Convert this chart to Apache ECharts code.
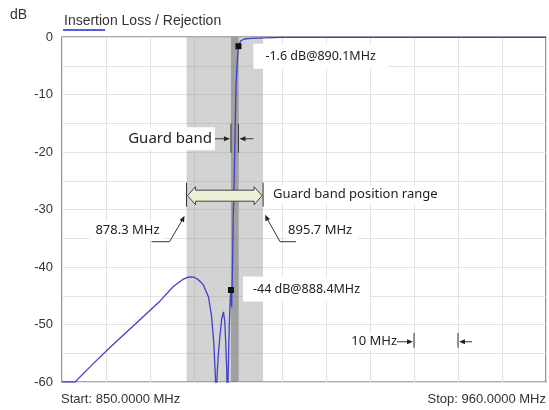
<!DOCTYPE html>
<html>
<head>
<meta charset="utf-8">
<script src="https://cdn.jsdelivr.net/npm/echarts@6/dist/echarts.min.js"></script>
<style>
html,body{margin:0;padding:0;background:#fff;}
#chart{width:549px;height:410px;}
</style>
</head>
<body>
<div id="chart"></div>
<script>
// ---- data ----
const freqMHz = [850, 853.0, 853.6, 857.1, 860.9, 864.7, 868.5, 872.3, 875.3, 877.6, 878.4, 879.1, 879.9, 880.6, 881.4, 882.1, 883.3, 884.0, 884.5, 884.9, 885.05, 885.2, 885.3, 885.6, 885.9, 886.3, 886.7, 887.0, 887.2, 887.45, 887.6, 887.75, 887.85, 888.0, 888.25, 888.4, 888.55, 888.7, 888.8, 888.9, 889.1, 889.25, 889.4, 889.55, 889.8, 890.1, 890.6, 891.4, 893.0, 896.0, 900.0, 910.0, 960.0];
const lossDb  = [-60, -60, -59.5, -56.8, -54.0, -51.3, -48.6, -45.9, -43.4, -42.1, -41.85, -41.7, -41.75, -42.0, -42.5, -43.1, -45.2, -48.6, -53.2, -59.7, -66, -60, -58, -54.5, -52, -49, -47.8, -49.5, -53, -58, -65, -59, -56, -50.4, -45.2, -44, -47, -42, -37.6, -31.8, -26, -20.2, -14.4, -8.6, -4.6, -1.6, -0.7, -0.35, -0.25, -0.15, -0.08, -0.05, -0.05];
const yTickValues = [0, -10, -20, -30, -40, -50, -60];
const yTickLabels = ['0', '-10', '-20', '-30', '-40', '-50', '-60'];
const markerPoints = [[890.1, -1.6], [888.4, -44]];
const markerLabels = ['-1.6 dB@890.1MHz', '-44 dB@888.4MHz'];
const guardBandMHz = [888.4, 890.1];
const guardRangeMHz = [878.3, 895.7];
const guardRangeLabels = ['878.3 MHz', '895.7 MHz'];
const scaleRefMHz = [930, 940];
const scaleRefLabel = '10 MHz';
const startLabel = 'Start: 850.0000 MHz';
const stopLabel = 'Stop: 960.0000 MHz';
const seriesName = 'Insertion Loss / Rejection';
const yUnit = 'dB';

const chart = echarts.init(document.getElementById('chart'), null, {renderer: 'canvas'});
const AX_FONT = 'Liberation Sans, Arial, sans-serif';
const AN_FONT = 'Noto Sans, Open Sans, sans-serif';

chart.setOption({
  animation: false,
  backgroundColor: '#fff',
  title: {
    text: seriesName, left: 59, top: 9,
    textStyle: {fontFamily: AX_FONT, fontSize: 14, fontWeight: 'normal', color: '#333'}
  },
  grid: {left: 62, right: 3, top: 37, bottom: 28, show: true, borderColor: '#555', borderWidth: 1.2, backgroundColor: 'transparent'},
  xAxis: {
    type: 'value', min: 850, max: 960, interval: 10,
    axisLine: {show: false}, axisTick: {show: false}, axisLabel: {show: false},
    splitLine: {show: true, lineStyle: {color: '#e3e3e3', width: 1}}
  },
  yAxis: {
    type: 'value', min: -60, max: 0, interval: 5,
    axisLine: {show: false}, axisTick: {show: false},
    axisLabel: {
      margin: 9, fontFamily: AX_FONT, fontSize: 13, color: '#333',
      formatter: v => { const i = yTickValues.indexOf(v); return i >= 0 ? yTickLabels[i] : ''; }
    },
    splitLine: {show: true, lineStyle: {color: '#e3e3e3', width: 1}}
  },
  series: [
    {
      type: 'line', data: [], silent: true,
      markArea: {
        silent: true,
        data: [
          [{xAxis: guardRangeMHz[0], itemStyle: {color: 'rgba(150,150,150,0.42)'}}, {xAxis: guardRangeMHz[1]}],
          [{xAxis: guardBandMHz[0], itemStyle: {color: 'rgba(110,110,110,0.5)'}}, {xAxis: guardBandMHz[1]}]
        ]
      }
    },
    {
      name: seriesName, type: 'line', showSymbol: false, clip: true,
      data: freqMHz.map((f, i) => [f, lossDb[i]]),
      lineStyle: {color: '#4040c8', width: 1.3},
      markPoint: {
        symbol: 'rect', symbolSize: 6, silent: true,
        itemStyle: {color: '#111'}, label: {show: false},
        data: markerPoints.map(p => ({coord: p}))
      }
    }
  ]
});

function px(x, y) { return chart.convertToPixel({gridIndex: 0}, [x, y]); }
const LINE = {stroke: '#333', lineWidth: 1};
function seg(x1, y1, x2, y2, st) { return {type: 'line', shape: {x1, y1, x2, y2}, style: Object.assign({}, LINE, st || {}), z: 50}; }
function head(tx, ty, dx, dy, len, w) {
  // arrowhead pointing along (dx,dy) with tip at tx,ty
  const n = Math.hypot(dx, dy); const ux = dx / n, uy = dy / n;
  const bx = tx - ux * len, by = ty - uy * len;
  return {type: 'polygon', shape: {points: [[tx, ty], [bx - uy * w, by + ux * w], [bx + uy * w, by - ux * w]]}, style: {fill: '#222'}, z: 51};
}
function txt(x, y, s, size, align, bg, pad) {
  return {type: 'text', x, y, z: 60, style: {
    text: s, fontFamily: AN_FONT, fontSize: size, fill: '#222', align: align || 'left', verticalAlign: 'middle',
    backgroundColor: bg || 'transparent', padding: pad || 0
  }};
}

const g = [];
// legend underline & unit & start/stop
g.push(seg(63, 30, 105, 30, {stroke: '#5a5ae0', lineWidth: 2}));
g.push({type: 'text', x: 10, y: 15, style: {text: yUnit, fontFamily: AX_FONT, fontSize: 14, fill: '#333', verticalAlign: 'middle'}});
const gb = chart.getModel().getComponent('grid').coordinateSystem.getRect();
g.push({type: 'text', x: gb.x - 1, y: 399, style: {text: startLabel, fontFamily: AX_FONT, fontSize: 13, fill: '#333', verticalAlign: 'middle'}});
g.push({type: 'text', x: gb.x + gb.width, y: 399, style: {text: stopLabel, fontFamily: AX_FONT, fontSize: 13, fill: '#333', align: 'right', verticalAlign: 'middle'}});

// marker labels
const m1 = px(markerPoints[0][0], markerPoints[0][1]);
g.push(txt(m1[0] + 15, m1[1] + 10, markerLabels[0], 12.5, 'left', '#fff', [6, 12, 6, 12]));
const m2 = px(markerPoints[1][0], markerPoints[1][1]);
g.push(txt(m2[0] + 12, m2[1] - 1, markerLabels[1], 12.5, 'left', '#fff', [6, 10, 6, 10]));

// guard band
const gy = px(0, -17.7)[1];
const b1 = px(guardBandMHz[0], 0)[0], b2 = px(guardBandMHz[1], 0)[0];
g.push(seg(b1, gy - 15, b1, gy + 14));
g.push(seg(b2, gy - 15, b2, gy + 14));
g.push(seg(b1 - 16, gy, b1 - 4, gy));
g.push(head(b1 - 1, gy, 1, 0, 6, 2.5));
g.push(seg(b2 + 15, gy, b2 + 4, gy));
g.push(head(b2 + 1, gy, -1, 0, 6, 2.5));
g.push(txt(b1 - 16, gy, 'Guard band', 15, 'right', '#fff', [4, 3, 4, 4]));

// guard band position range
const cy = px(0, -27.6)[1];
const L = px(guardRangeMHz[0], 0)[0], R = px(guardRangeMHz[1], 0)[0];
const hl = 8, hh = 9, sh = 5.5;
g.push({type: 'polygon', z: 52, shape: {points: [
  [L + 1, cy], [L + 1 + hl, cy - hh], [L + 1 + hl, cy - sh], [R - 1 - hl, cy - sh], [R - 1 - hl, cy - hh], [R - 1, cy],
  [R - 1 - hl, cy + hh], [R - 1 - hl, cy + sh], [L + 1 + hl, cy + sh], [L + 1 + hl, cy + hh]
]}, style: {fill: '#eef1d6', stroke: '#444', lineWidth: 1}});
g.push(seg(L, cy - 13, L, cy + 11));
g.push(seg(R, cy - 13, R, cy + 11));
g.push(txt(R + 10, cy - 1, 'Guard band position range', 13, 'left', '#fff', [3, 4, 3, 0]));
// leaders
g.push(txt(L - 23, cy + 35, guardRangeLabels[0], 13, 'right', '#fff', [3, 4, 3, 6]));
g.push(seg(L - 35, cy + 46, L - 17, cy + 46));
g.push(seg(L - 17, cy + 46, L - 4, cy + 24));
g.push(head(L - 2, cy + 20, 0.45, -0.89, 6, 2.5));
g.push(txt(R + 23, cy + 35, guardRangeLabels[1], 13, 'left', '#fff', [3, 6, 3, 2]));
g.push(seg(R + 33, cy + 46, R + 17, cy + 46));
g.push(seg(R + 17, cy + 46, R + 4, cy + 23));
g.push(head(R + 2, cy + 19, -0.45, -0.89, 6, 2.5));

// 10 MHz scale
const sy = px(0, -53)[1];
const s1 = px(scaleRefMHz[0], 0)[0], s2 = px(scaleRefMHz[1], 0)[0];
g.push(seg(s1, sy - 9, s1, sy + 6));
g.push(seg(s2, sy - 9, s2, sy + 6));
g.push(seg(s1 - 17, sy, s1 - 4, sy));
g.push(head(s1 - 1, sy, 1, 0, 6, 2.5));
g.push(seg(s2 + 14, sy, s2 + 4, sy));
g.push(head(s2 + 1, sy, -1, 0, 6, 2.5));
g.push(txt(s1 - 17, sy, scaleRefLabel, 13, 'right', '#fff', [2, 0, 2, 3]));

chart.setOption({graphic: g});
</script>
</body>
</html>
